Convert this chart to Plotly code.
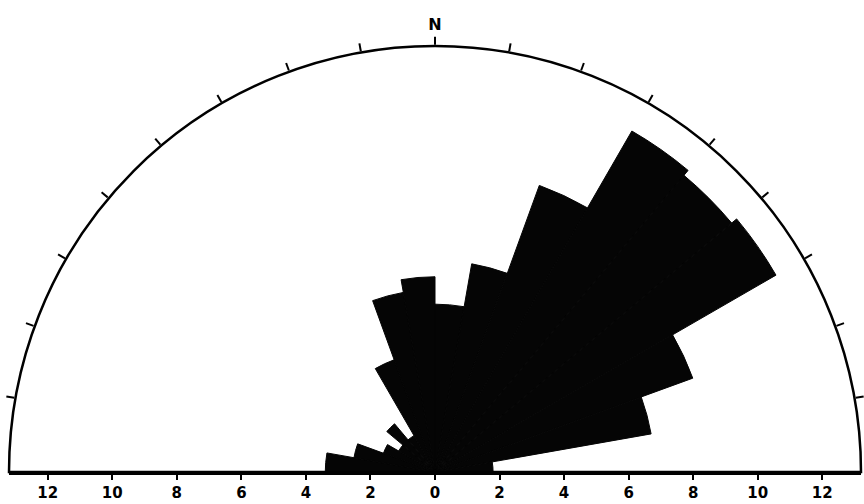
import plotly.graph_objects as go

# Azimuth bins (compass degrees, centre of each 10-degree class; negative = west of N)
bin_centers = [-85, -75, -65, -55, -45, -35, -25, -15, -5,
               5, 15, 25, 35, 45, 55, 65, 75, 85]
# Percent frequency
frequency = [3.4, 2.55, 1.7, 1.3, 1.95, 1.3, 3.7, 5.65, 6.05,
             5.2, 6.55, 9.45, 12.2, 12.0, 12.2, 8.5, 6.8, 1.8]

scale_vals = [-12, -10, -8, -6, -4, -2, 0, 2, 4, 6, 8, 10, 12]
scale_text = ["12", "10", "8", "6", "4", "2", "0", "2", "4", "6", "8", "10", "12"]

compass_ticks = [-80, -70, -60, -50, -40, -30, -20, -10, 0, 10, 20, 30, 40, 50, 60, 70, 80]
compass_text = ["", "", "", "", "", "", "", "", "N", "", "", "", "", "", "", "", ""]

R_MAX = 13.2

fig = go.Figure()

# invisible trace to carry the cartesian scale axis
fig.add_trace(go.Scatter(x=[-R_MAX, R_MAX], y=[0, 0], mode="markers",
                         marker=dict(opacity=0), hoverinfo="skip",
                         showlegend=False, xaxis="x", yaxis="y"))

fig.add_trace(go.Barpolar(
    theta=bin_centers,
    r=frequency,
    width=[10] * len(bin_centers),
    marker=dict(color="#050505", line=dict(width=1, color="#050505")),
    showlegend=False,
))

fig.update_layout(
    width=864, height=504,
    margin=dict(l=9, r=3, t=46, b=32),
    paper_bgcolor="white",
    plot_bgcolor="white",
    xaxis=dict(
        domain=[0, 1], range=[-R_MAX, R_MAX],
        tickmode="array", tickvals=scale_vals, ticktext=scale_text,
        ticks="outside", ticklen=5, tickwidth=2, tickcolor="black",
        showline=True, linewidth=2.5, linecolor="black",
        showgrid=False, zeroline=False,
        tickfont=dict(family="DejaVu Sans, sans-serif", size=15, color="black", weight="bold"),
        fixedrange=True,
    ),
    yaxis=dict(domain=[0, 1], range=[0, 1], visible=False, fixedrange=True),
    polar=dict(
        domain=dict(x=[0, 1], y=[0, 1]),
        sector=[0, 180],
        bgcolor="rgba(0,0,0,0)",
        bargap=0,
        radialaxis=dict(range=[0, R_MAX], visible=False, showgrid=False),
        angularaxis=dict(
            direction="clockwise", rotation=90,
            tickmode="array",
            tickvals=compass_ticks,
            ticktext=compass_text,
            ticks="outside", ticklen=8, tickwidth=2, tickcolor="black",
            showline=True, linewidth=2.5, linecolor="black",
            showgrid=False,
            tickfont=dict(family="DejaVu Sans, sans-serif", size=16, color="black", weight="bold"),
        ),
    ),
)

fig.write_html(
    "out.html",
    config={"displayModeBar": False},
    post_script="document.body.style.margin='0';document.body.style.overflow='hidden';",
)
